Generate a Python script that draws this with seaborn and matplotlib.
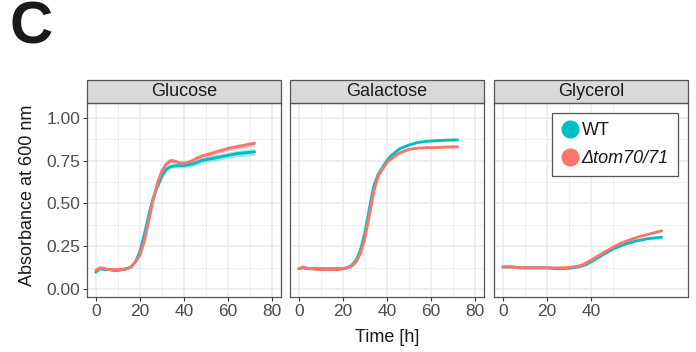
import numpy as np
import pandas as pd
import matplotlib
matplotlib.use('Agg')
import matplotlib.pyplot as plt
from matplotlib.patches import Rectangle
from matplotlib.lines import Line2D
from matplotlib.ticker import MultipleLocator, FixedLocator
import seaborn as sns

# data
media = ['Glucose', 'Galactose', 'Glycerol']
strains = ['WT', 'Δtom70/71']

glc_time = [0, 2, 4, 6, 8, 10, 12, 14, 16, 18, 20, 22, 24, 26, 28, 30, 32, 34, 36, 38, 40, 42, 44, 46, 48, 52, 56, 60, 64, 68, 72]
glc_wt = [0.10, 0.12, 0.115, 0.115, 0.11, 0.11, 0.115, 0.12, 0.13, 0.16, 0.22, 0.32, 0.43, 0.53, 0.60, 0.66, 0.70, 0.715, 0.72, 0.72,
          0.72, 0.725, 0.73, 0.74, 0.75, 0.76, 0.77, 0.78, 0.79, 0.795, 0.80]
glc_mut = [0.11, 0.125, 0.12, 0.115, 0.115, 0.115, 0.115, 0.12, 0.13, 0.16, 0.20, 0.28, 0.40, 0.52, 0.62, 0.69, 0.73, 0.75, 0.745, 0.735,
           0.735, 0.74, 0.75, 0.765, 0.775, 0.79, 0.805, 0.82, 0.83, 0.84, 0.85]
glc_wt_sd = [0.005, 0.005, 0.005, 0.005, 0.005, 0.005, 0.005, 0.005, 0.005, 0.008, 0.01, 0.012, 0.012, 0.012, 0.012, 0.012, 0.012, 0.012,
             0.012, 0.012, 0.012, 0.013, 0.014, 0.015, 0.016, 0.017, 0.018, 0.019, 0.02, 0.02, 0.02]
glc_mut_sd = [0.005, 0.005, 0.005, 0.005, 0.005, 0.005, 0.005, 0.005, 0.005, 0.008, 0.01, 0.01, 0.01, 0.01, 0.01, 0.01, 0.01, 0.012,
              0.012, 0.012, 0.012, 0.012, 0.012, 0.013, 0.013, 0.014, 0.014, 0.015, 0.015, 0.015, 0.015]

gal_time = [0, 2, 4, 6, 8, 10, 12, 14, 16, 18, 20, 22, 24, 26, 28, 30, 32, 34, 36, 38, 40, 42, 44, 46, 48, 50, 54, 58, 62, 66, 72]
gal_wt = [0.12, 0.125, 0.12, 0.12, 0.12, 0.12, 0.12, 0.12, 0.12, 0.12, 0.12, 0.125, 0.14, 0.17, 0.23, 0.33, 0.47, 0.60, 0.67, 0.71,
          0.75, 0.78, 0.80, 0.82, 0.83, 0.84, 0.855, 0.862, 0.865, 0.868, 0.87]
gal_mut = [0.12, 0.13, 0.12, 0.12, 0.115, 0.115, 0.115, 0.115, 0.115, 0.115, 0.12, 0.125, 0.135, 0.16, 0.21, 0.30, 0.43, 0.57, 0.66,
           0.70, 0.74, 0.76, 0.78, 0.795, 0.805, 0.815, 0.822, 0.825, 0.825, 0.828, 0.83]

gly_time = [0, 4, 8, 12, 16, 20, 24, 28, 32, 34, 36, 38, 40, 42, 44, 46, 48, 50, 52, 54, 56, 58, 60, 62, 64, 66, 68, 70, 72]
gly_wt = [0.13, 0.13, 0.125, 0.125, 0.125, 0.125, 0.12, 0.12, 0.125, 0.13, 0.135, 0.145, 0.16, 0.175, 0.19, 0.205, 0.22, 0.235,
          0.245, 0.255, 0.265, 0.272, 0.28, 0.285, 0.29, 0.295, 0.298, 0.30, 0.303]
gly_mut = [0.13, 0.13, 0.125, 0.125, 0.125, 0.125, 0.125, 0.125, 0.13, 0.135, 0.14, 0.155, 0.17, 0.185, 0.20, 0.215, 0.23, 0.245,
           0.258, 0.27, 0.28, 0.29, 0.298, 0.307, 0.313, 0.32, 0.327, 0.333, 0.34]

rows = []
for med, t, wt, mut in [('Glucose', glc_time, glc_wt, glc_mut),
                        ('Galactose', gal_time, gal_wt, gal_mut),
                        ('Glycerol', gly_time, gly_wt, gly_mut)]:
    for strain, vals in [('WT', wt), ('Δtom70/71', mut)]:
        for ti, v in zip(t, vals):
            rows.append((med, strain, ti, v))
df = pd.DataFrame(rows, columns=['medium', 'strain', 'time', 'od'])

sns.set_style('white')
plt.rcParams['font.family'] = ['Liberation Sans', 'DejaVu Sans']

palette = {'WT': '#00BFC4', 'Δtom70/71': '#F8766D'}

fig = plt.figure(figsize=(6.96, 3.52), dpi=100)
lefts = [87, 290, 494]
pw, ph = 194, 194
axes = []
for i, med in enumerate(media):
    ax = fig.add_axes([lefts[i] / 696, 1 - 297 / 352, pw / 696, ph / 352])
    axes.append(ax)
    if med == 'Glucose':
        ax.fill_between(glc_time, np.array(glc_wt) - glc_wt_sd, np.array(glc_wt) + glc_wt_sd,
                        color=palette['WT'], alpha=0.35, lw=0, zorder=3)
        ax.fill_between(glc_time, np.array(glc_mut) - glc_mut_sd, np.array(glc_mut) + glc_mut_sd,
                        color=palette['Δtom70/71'], alpha=0.35, lw=0, zorder=3)
    sns.lineplot(data=df[df['medium'] == med], x='time', y='od', hue='strain', hue_order=strains,
                 palette=palette, lw=2.1, ax=ax, legend=False, zorder=4)
    ax.set_xlim(-4, 84)
    ax.set_ylim(-0.045, 1.085)
    if med == 'Glycerol':
        ax.xaxis.set_major_locator(FixedLocator([0, 20, 40]))
        ax.xaxis.set_minor_locator(FixedLocator([10, 30, 50]))
    else:
        ax.xaxis.set_major_locator(MultipleLocator(20))
        ax.xaxis.set_minor_locator(MultipleLocator(10))
    ax.yaxis.set_major_locator(FixedLocator([0, 0.25, 0.5, 0.75, 1.0]))
    ax.yaxis.set_minor_locator(FixedLocator([0.125, 0.375, 0.625, 0.875]))
    ax.grid(which='major', color='#EBEBEB', lw=1.1, zorder=0)
    ax.grid(which='minor', color='#EBEBEB', lw=0.6, zorder=0)
    ax.set_axisbelow(True)
    for s in ax.spines.values():
        s.set_color('#555555')
        s.set_linewidth(0.9)
    ax.tick_params(which='major', length=3, width=0.8, color='#333333', labelsize=12.5,
                   labelcolor='#4D4D4D', pad=2, left=True, bottom=True)
    ax.tick_params(which='minor', length=0)
    ax.set_xlabel('')
    ax.set_ylabel('')
    if i == 0:
        ax.set_yticklabels(['0.00', '0.25', '0.50', '0.75', '1.00'])
    else:
        ax.tick_params(axis='y', which='major', length=0, labelleft=False)
    # facet strip
    sh = 23 / ph
    ax.add_patch(Rectangle((0, 1), 1, sh, transform=ax.transAxes, clip_on=False,
                           facecolor='#D9D9D9', edgecolor='#555555', lw=0.9))
    ax.text(0.5, 1 + sh / 2, med, transform=ax.transAxes, ha='center', va='center',
            fontsize=13, color='#1A1A1A')

handles = [Line2D([], [], marker='o', ls='', ms=12, color=palette[s]) for s in strains]
leg = axes[2].legend(handles, strains, loc='upper right',
                     bbox_to_anchor=(0.948, 0.948), borderaxespad=0, fancybox=False,
                     framealpha=1, edgecolor='#555555', fontsize=13, handletextpad=0.15,
                     borderpad=0.5, labelspacing=0.6, handlelength=1.0)
leg.get_frame().set_linewidth(0.9)
for txt in leg.get_texts():
    txt.set_color('#1A1A1A')
leg.get_texts()[1].set_fontstyle('italic')

fig.text(387.5 / 696, 1 - 338 / 352, 'Time [h]', ha='center', va='center', fontsize=13, color='#1A1A1A')
fig.text(28 / 696, 0.445, 'Absorbance at 600 nm', ha='center', va='center', rotation=90,
         fontsize=13, color='#1A1A1A')
fig.text(10 / 696, 1 - 28 / 352, 'C', ha='left', va='center', fontsize=43, fontweight='bold', color='#1A1A1A')

fig.savefig('out.png', dpi=100)
